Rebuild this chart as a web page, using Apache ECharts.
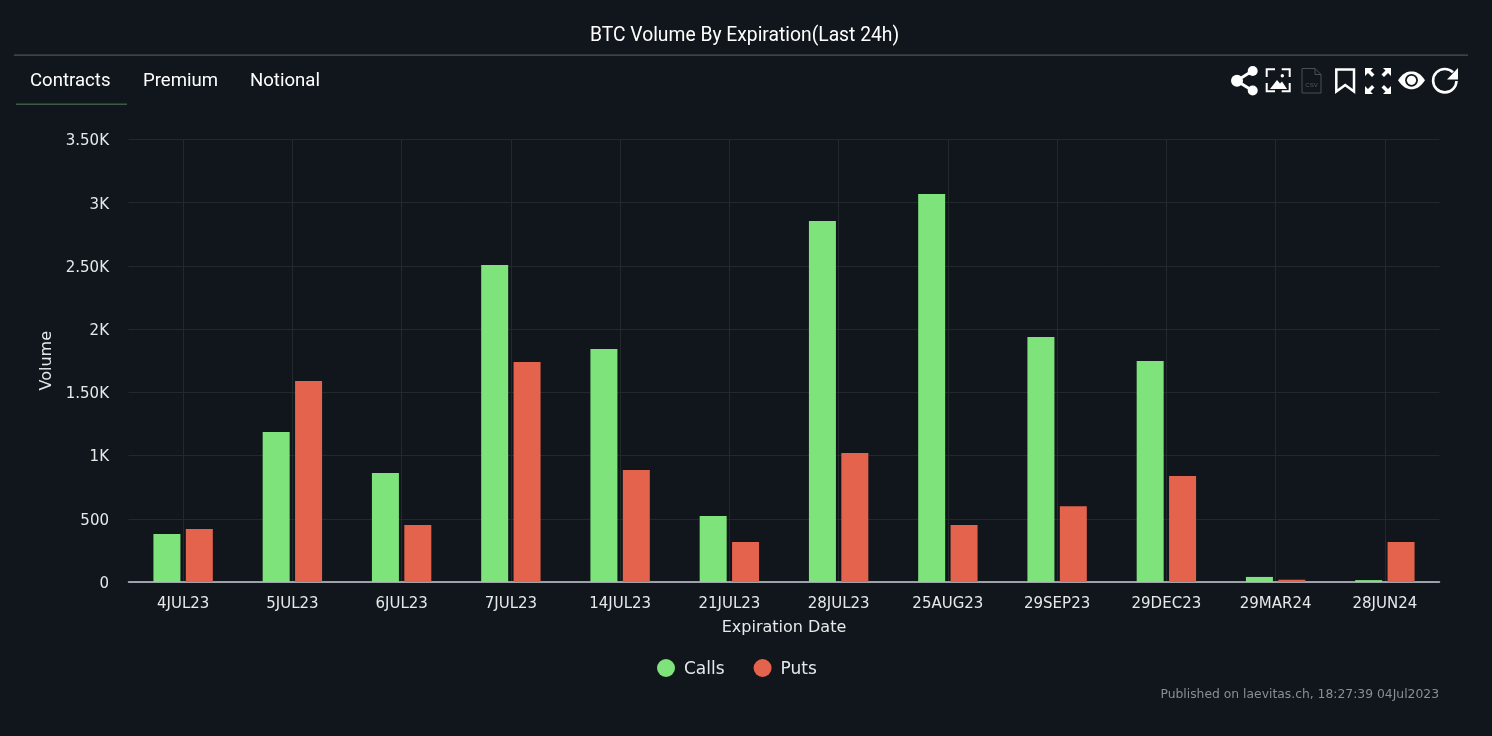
<!DOCTYPE html>
<html>
<head>
<meta charset="utf-8">
<style>
html,body{margin:0;padding:0;background:#10161c;}
#chart{width:1492px;height:736px;}
</style>
<script src="https://cdn.jsdelivr.net/npm/echarts@6/dist/echarts.min.js"></script>
</head>
<body>
<div id="chart"></div>
<script>
var categories = ['4JUL23','5JUL23','6JUL23','7JUL23','14JUL23','21JUL23','28JUL23','25AUG23','29SEP23','29DEC23','29MAR24','28JUN24'];
var calls = [380,1186,862,2507,1843,522,2855,3069,1938,1748,40,15];
var puts = [420,1590,450,1740,886,316,1020,450,600,838,18,316];
var yTickLabels = ['0','500','1K','1.50K','2K','2.50K','3K','3.50K'];
var tabs = ['Contracts','Premium','Notional'];
var tabX = [30,143,250];

var white = '#ffffff';
var axisText = '#e6e8ea';
var gridColor = '#22292b';
var bg = '#10161c';

// graphic has no plain path element, so each icon outline gets registered as a shape
var iconCount = 0;
function iconPath(d, style) {
    var name = 'icon' + (iconCount++);
    echarts.graphic.registerShape(name, echarts.graphic.extendPath(d, {}));
    return {type: name, silent: true, style: style};
}
function iconStroke(d, w, color) {
    return iconPath(d, {fill: 'none', stroke: color || white, lineWidth: w || 3});
}
function iconFill(d) {
    return iconPath(d, {fill: white});
}
function dot(cx, cy, r, color) {
    return {type: 'circle', silent: true, shape: {cx: cx, cy: cy, r: r}, style: {fill: color || white}};
}

var graphics = [
    // header rule and active tab underline
    {type:'rect', silent:true, shape:{x:14,y:54.5,width:1454,height:1.2}, style:{fill:'#4d5252'}},
    {type:'rect', silent:true, shape:{x:16,y:103.5,width:111,height:1.4}, style:{fill:'#3d5a45'}},
    // share
    iconStroke('M1252.7 70.7 L1236.7 80.7 L1252.7 90.7'),
    dot(1237,80.7,6), dot(1252.7,71,5), dot(1252.7,90.5,5),
    // image
    iconStroke('M1275 69.3 H1266.7 V77 M1281.7 69.3 H1289.7 V77 M1275 91.3 H1266.7 V83 M1281.7 91.3 H1289.7 V83', 2),
    iconFill('M1270 89 L1277 80 L1280 83.5 L1282 81.5 L1287 89 Z'),
    dot(1282.3,75.7,1.7),
    // csv
    iconStroke('M1302 68.5 H1315 L1321 74.5 V93 H1302 Z M1315 68.5 V74.5 H1321', 1, '#4a4f53'),
    {type:'text', silent:true, style:{x:1311.5,y:85,text:'CSV',fill:'#55595d',font:'6px "Liberation Sans"',align:'center',verticalAlign:'middle'}},
    // bookmark
    iconStroke('M1336.3 69.5 H1354 V91.5 L1345.2 85 L1336.3 91.5 Z', 2.5),
    // fullscreen
    iconFill('M1365 68 H1373 L1370.5 70.5 L1374.5 74.5 L1372 77 L1368 73 L1365 76 Z'),
    iconFill('M1391 68 H1383 L1385.5 70.5 L1381.5 74.5 L1384 77 L1388 73 L1391 76 Z'),
    iconFill('M1365 94 H1373 L1370.5 91.5 L1374.5 87.5 L1372 85 L1368 89 L1365 86 Z'),
    iconFill('M1391 94 H1383 L1385.5 91.5 L1381.5 87.5 L1384 85 L1388 89 L1391 86 Z'),
    // eye
    iconFill('M1398 80.3 C1403 73 1407 71.5 1411.5 71.5 C1416 71.5 1420 73 1425 80.3 C1420 87.5 1416 89.3 1411.5 89.3 C1407 89.3 1403 87.5 1398 80.3 Z'),
    dot(1411.5,80.3,6.4,bg), dot(1411.5,80.3,4.6),
    // refresh
    iconStroke('M1453 72.3 A11.7 11.7 0 1 0 1456.5 81', 2.6),
    iconFill('M1458 68 V79.5 H1447 Z'),
    // footer
    {type:'text', silent:true, style:{x:1439,y:694.5,text:'Published on laevitas.ch, 18:27:39 04Jul2023',fill:'#8a8e91',font:'12.35px "DejaVu Sans"',align:'right',verticalAlign:'middle'}}
];
tabs.forEach(function (t, i) {
    graphics.push({type:'text', silent:true, style:{x:tabX[i],y:81,text:t,fill:white,font:'18.6px Roboto',verticalAlign:'middle'}});
});

var myChart = echarts.init(document.getElementById('chart'));
var option = {
    backgroundColor: bg,
    animation: false,
    title: {
        text: 'BTC Volume By Expiration(Last 24h)',
        left: 585,
        top: 22,
        textStyle: {color: white, fontFamily: 'Roboto', fontSize: 19.3, fontWeight: 400}
    },
    legend: {
        data: ['Calls','Puts'],
        icon: 'circle',
        left: 657,
        top: 659,
        padding: 0,
        itemWidth: 18,
        itemHeight: 18,
        itemGap: 29,
        formatter: '{a|{name}}',
        textStyle: {
            color: axisText, fontFamily: 'DejaVu Sans', fontSize: 17,
            rich: {a: {color: axisText, fontFamily: 'DejaVu Sans', fontSize: 17, padding: [4,0,0,4]}}
        }
    },
    grid: {left: 128.5, right: 52.5, top: 139.5, bottom: 154},
    xAxis: {
        type: 'category',
        data: categories,
        name: 'Expiration Date',
        nameLocation: 'middle',
        nameGap: 38,
        nameTextStyle: {color: axisText, fontFamily: 'DejaVu Sans', fontSize: 16},
        axisLine: {lineStyle: {color: '#c9ccd6', width: 1.5}},
        axisTick: {show: false},
        axisLabel: {color: axisText, fontFamily: 'DejaVu Sans', fontSize: 15, margin: 15, interval: 0},
        splitLine: {show: true, alignWithLabel: true, lineStyle: {color: gridColor, width: 1}}
    },
    yAxis: {
        type: 'value',
        min: 0,
        max: 3500,
        interval: 500,
        name: 'Volume',
        nameLocation: 'middle',
        nameGap: 73,
        nameTextStyle: {color: axisText, fontFamily: 'DejaVu Sans', fontSize: 16},
        axisLine: {show: false},
        axisTick: {show: false},
        axisLabel: {
            color: axisText, fontFamily: 'DejaVu Sans', fontSize: 15, margin: 19.5,
            verticalAlign: 'top', lineHeight: 4,
            formatter: function (v) { return yTickLabels[v / 500]; }
        },
        splitLine: {show: true, lineStyle: {color: gridColor, width: 1}}
    },
    series: [
        {name: 'Calls', type: 'bar', data: calls, barWidth: 27, barGap: '20%', itemStyle: {color: '#7ee37a'}},
        {name: 'Puts', type: 'bar', data: puts, barWidth: 27, barGap: '20%', itemStyle: {color: '#e4634c'}}
    ],
    graphic: graphics
};
myChart.setOption(option);
</script>
</body>
</html>
